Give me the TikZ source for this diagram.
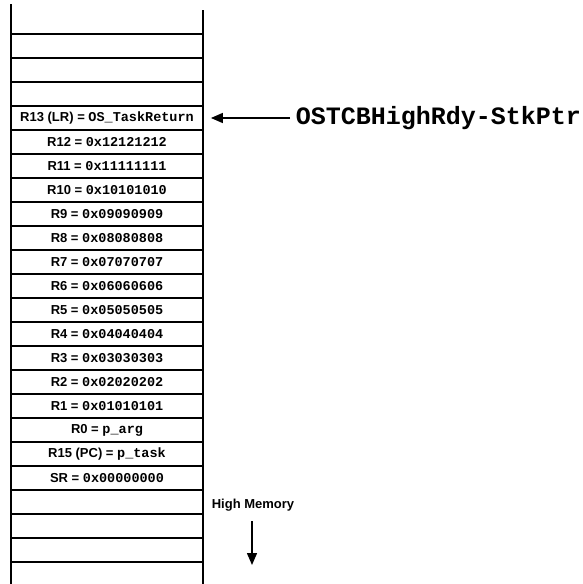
\documentclass[tikz,border=0pt]{standalone}
\usepackage{fontspec}
\setmainfont{Liberation Sans}
\setmonofont{Liberation Mono}
\usetikzlibrary{arrows.meta}
\newcommand\regval[1]{{\ttfamily\bfseries\fontsize{13.5}{15}\selectfont #1}}
\begin{document}
\begin{tikzpicture}[x=1pt,y=-1pt,
  cell/.style={draw, line width=1.8pt, minimum width=192pt, minimum height=24pt,
    inner sep=0pt, font=\fontsize{13}{15}\selectfont\bfseries},
  rail/.style={line width=1.8pt},
  pointer/.style={line width=1.5pt, -{Triangle[length=12pt,width=10pt]}}]
\useasboundingbox (0,0) rectangle (582,584);
% rails
\coordinate (lt) at (11,4);
\coordinate (lb) at (11,584);
\coordinate (rt) at (203,10);
\coordinate (rb) at (203,584);
\draw[rail] (lt) -- (lb);
\draw[rail] (rt) -- (rb);
% cells
\node[cell] (e1) at (107,46) {};
\node[cell] (e2) at (107,70) {};
\node[cell] (e3) at (107,94) {};
\node[cell] (r13) at (107,118) {R13 (LR) = \regval{OS\_TaskReturn}};
\node[cell] (r12) at (107,142) {R12 = \regval{0x12121212}};
\node[cell] (r11) at (107,166) {R11 = \regval{0x11111111}};
\node[cell] (r10) at (107,190) {R10 = \regval{0x10101010}};
\node[cell] (r9) at (107,214) {R9 = \regval{0x09090909}};
\node[cell] (r8) at (107,238) {R8 = \regval{0x08080808}};
\node[cell] (r7) at (107,262) {R7 = \regval{0x07070707}};
\node[cell] (r6) at (107,286) {R6 = \regval{0x06060606}};
\node[cell] (r5) at (107,310) {R5 = \regval{0x05050505}};
\node[cell] (r4) at (107,334) {R4 = \regval{0x04040404}};
\node[cell] (r3) at (107,358) {R3 = \regval{0x03030303}};
\node[cell] (r2) at (107,382) {R2 = \regval{0x02020202}};
\node[cell] (r1) at (107,406) {R1 = \regval{0x01010101}};
\node[cell] (r0) at (107,430) {R0 = \regval{p\_arg}};
\node[cell] (r15) at (107,454) {R15 (PC) = \regval{p\_task}};
\node[cell] (sr) at (107,478) {SR = \regval{0x00000000}};
\node[cell] (e4) at (107,502) {};
\node[cell] (e5) at (107,526) {};
\node[cell] (e6) at (107,550) {};
% stack pointer label
\node[inner sep=0pt, font=\ttfamily\bfseries\fontsize{25}{28}\selectfont] (sp) at (438.5,118) {OSTCBHighRdy-StkPtr};
\coordinate (aS) at (290,118);
\draw[pointer] (aS) -- ([xshift=7pt]r13.east);
% high memory
\node[inner sep=0pt, font=\fontsize{13}{15}\selectfont\bfseries] (hm) at (253,505) {High Memory};
\coordinate (d1) at (252,521);
\coordinate (d2) at (252,565);
\draw[pointer] (d1) -- (d2);
\end{tikzpicture}
\end{document}
